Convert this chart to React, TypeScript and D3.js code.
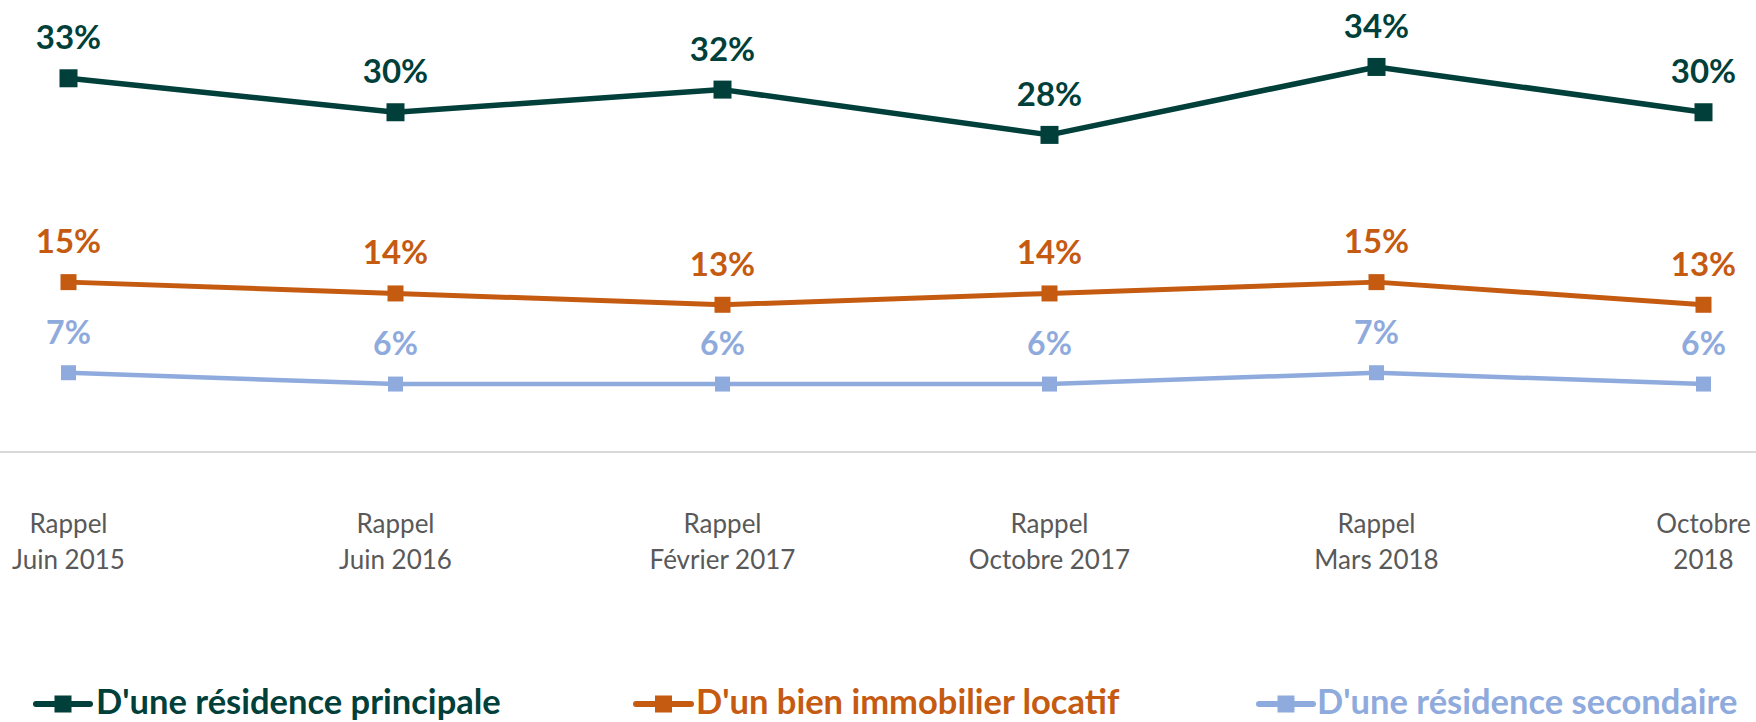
import React from "react";
import * as d3 from "d3";

const categories: string[][] = [
  ["Rappel", "Juin 2015"],
  ["Rappel", "Juin 2016"],
  ["Rappel", "Février 2017"],
  ["Rappel", "Octobre 2017"],
  ["Rappel", "Mars 2018"],
  ["Octobre", "2018"],
];

const principale = [0.33, 0.3, 0.32, 0.28, 0.34, 0.3];
const locatif = [0.15, 0.14, 0.13, 0.14, 0.15, 0.13];
const secondaire = [0.07, 0.06, 0.06, 0.06, 0.07, 0.06];

const seriesNames = [
  "D'une résidence principale",
  "D'un bien immobilier locatif",
  "D'une résidence secondaire",
];

const W = 1756;
const H = 722;
const FONT = "Lato, 'Open Sans', sans-serif";

export default function App() {
  const x = d3
    .scalePoint<number>()
    .domain(d3.range(categories.length))
    .range([68.5, 1703.5]);
  const y = d3.scaleLinear().domain([0, 0.4]).range([452, -1]);

  const series = [
    { name: seriesNames[0], values: principale, color: "#013F3A", marker: 18, width: 5.5, fs: 33 },
    { name: seriesNames[1], values: locatif, color: "#C55A11", marker: 16, width: 5, fs: 33 },
    { name: seriesNames[2], values: secondaire, color: "#8FAADC", marker: 15, width: 4.5, fs: 32 },
  ];

  const line = d3
    .line<number>()
    .x((_, i) => x(i) as number)
    .y((d) => y(d));

  const legendPos = [
    { x1: 36, x2: 90, tx: 96 },
    { x1: 636, x2: 691, tx: 696 },
    { x1: 1259, x2: 1313, tx: 1317 },
  ];
  const legendY = 704;

  return (
    <svg
      width={W}
      height={H}
      style={{ position: "absolute", left: 0, top: 0, background: "#fff" }}
      fontFamily={FONT}
    >
      <line x1={0} x2={W} y1={y(0)} y2={y(0)} stroke="#D9D9D9" strokeWidth={2} />
      {categories.map((c, i) => (
        <text
          key={i}
          x={x(i)}
          y={533}
          textAnchor="middle"
          fontSize={26}
          fill="#595959"
        >
          <tspan x={x(i)} y={533}>{c[0]}</tspan>
          <tspan x={x(i)} y={569}>{c[1]}</tspan>
        </text>
      ))}
      {series.map((s, si) => (
        <g key={si}>
          <path d={line(s.values) || ""} fill="none" stroke={s.color} strokeWidth={s.width} strokeLinejoin="round" />
          {s.values.map((v, i) => (
            <rect
              key={i}
              x={(x(i) as number) - s.marker / 2}
              y={y(v) - s.marker / 2}
              width={s.marker}
              height={s.marker}
              fill={s.color}
            />
          ))}
          {s.values.map((v, i) => (
            <text
              key={"t" + i}
              x={x(i)}
              y={y(v) - 29}
              textAnchor="middle"
              fontWeight="bold"
              fontSize={s.fs}
              fill={s.color}
            >
              {d3.format(".0%")(v)}
            </text>
          ))}
        </g>
      ))}
      {series.map((s, si) => {
        const p = legendPos[si];
        return (
          <g key={"l" + si}>
            <line x1={p.x1} x2={p.x2} y1={legendY} y2={legendY} stroke={s.color} strokeWidth={6} strokeLinecap="round" />
            <rect x={(p.x1 + p.x2) / 2 - 8.5} y={legendY - 8.5} width={17} height={17} fill={s.color} />
            <text x={p.tx} y={714} fontSize={34.5} fontWeight="bold" fill={s.color}>
              {s.name}
            </text>
          </g>
        );
      })}
    </svg>
  );
}
